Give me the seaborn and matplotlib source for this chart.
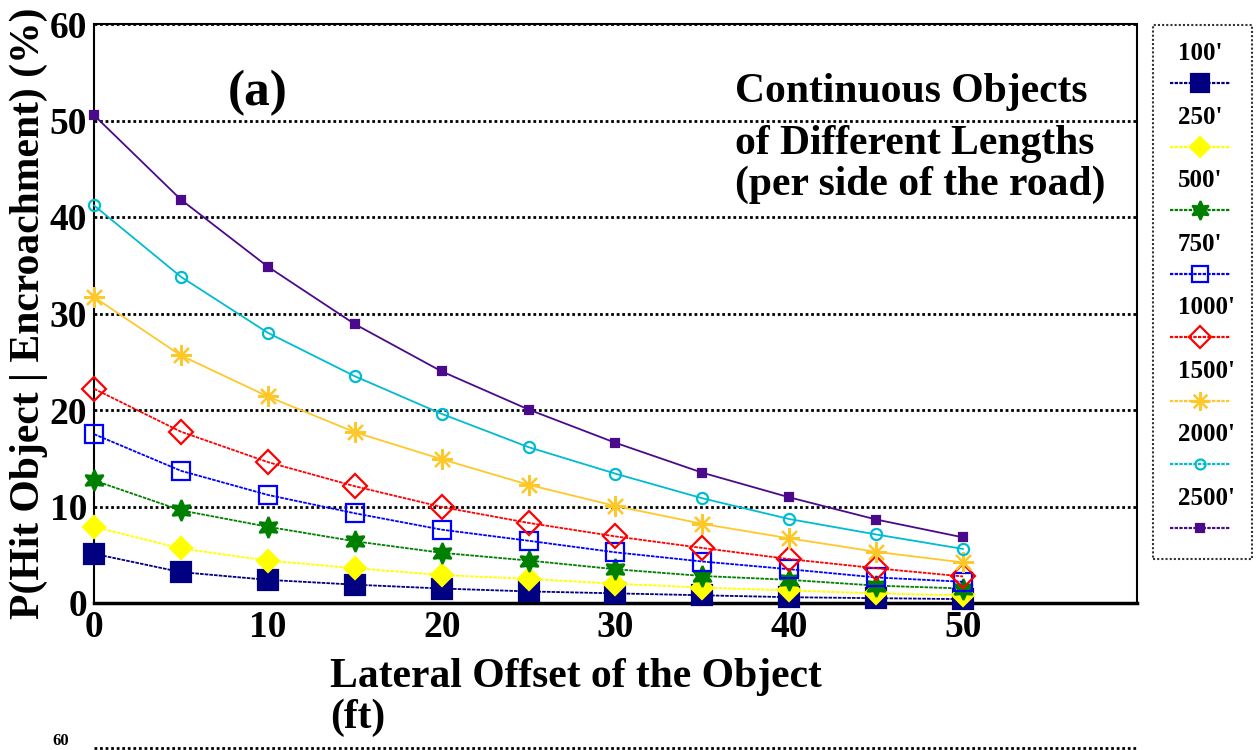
import matplotlib
matplotlib.use("Agg")
import numpy as np
import pandas as pd
import matplotlib.pyplot as plt
import seaborn as sns
from matplotlib.lines import Line2D
from matplotlib.ticker import MultipleLocator

# ---- data ----
offset_ft = [0, 5, 10, 15, 20, 25, 30, 35, 40, 45, 50]
lengths = ["100'", "250'", "500'", "750'", "1000'", "1500'", "2000'", "2500'"]

p_100 = [5.1, 3.2, 2.4, 1.9, 1.5, 1.2, 1.0, 0.8, 0.6, 0.5, 0.4]
p_250 = [7.9, 5.65, 4.4, 3.6, 2.9, 2.5, 2.0, 1.6, 1.3, 1.0, 0.8]
p_500 = [12.7, 9.6, 7.9, 6.4, 5.2, 4.4, 3.5, 2.8, 2.4, 1.8, 1.5]
p_750 = [17.5, 13.7, 11.2, 9.3, 7.6, 6.45, 5.25, 4.3, 3.5, 2.65, 2.2]
p_1000 = [22.2, 17.75, 14.6, 12.1, 9.95, 8.3, 6.9, 5.7, 4.55, 3.6, 2.75]
p_1500 = [31.7, 25.65, 21.4, 17.7, 14.9, 12.25, 10.05, 8.2, 6.7, 5.3, 4.2]
p_2000 = [41.2, 33.8, 28.0, 23.5, 19.6, 16.15, 13.4, 10.85, 8.7, 7.1, 5.6]
p_2500 = [50.55, 41.8, 34.85, 28.9, 24.0, 20.05, 16.6, 13.5, 10.95, 8.65, 6.8]

series = [p_100, p_250, p_500, p_750, p_1000, p_1500, p_2000, p_2500]

df = pd.DataFrame({
    "offset": offset_ft * len(lengths),
    "prob": np.concatenate(series),
    "length": np.repeat(lengths, len(offset_ft)),
})

# ---- styling per series ----
colors = ["#000080", "#FFFF00", "#008000", "#0000FF", "#FF0000", "#FFC82A", "#00BCD0", "#4B0A8C"]
markers = ["s", "D", (6, 1, 0), "s", "D", (8, 2, 0), "o", "s"]
filled = [True, True, True, False, False, True, False, True]
msizes = [14, 11, 15, 13, 12, 15, 8, 6]
dashed = [True, True, True, True, True, False, False, False]

sns.set_style("white")
plt.rcParams["font.family"] = ["Liberation Serif", "DejaVu Serif"]
plt.rcParams["font.weight"] = "bold"
plt.rcParams["text.color"] = "black"
plt.rcParams["axes.labelcolor"] = "black"
plt.rcParams["xtick.color"] = "black"
plt.rcParams["ytick.color"] = "black"

fig = plt.figure(figsize=(12.57, 7.5), dpi=100)
ax = fig.add_axes([0.0748, 0.196, 0.8297, 0.772])

for i, name in enumerate(lengths):
    sub = df[df["length"] == name]
    sns.lineplot(
        data=sub, x="offset", y="prob", ax=ax,
        color=colors[i], marker=markers[i], markersize=msizes[i],
        markerfacecolor=colors[i] if filled[i] else "none",
        markeredgecolor=colors[i], markeredgewidth=1.6,
        linewidth=1.3, linestyle=(0, (2, 0.6)) if dashed[i] else "-",
        label=name, legend=False, clip_on=False, zorder=3,
    )

ax.set_xlim(0, 60)
ax.set_ylim(0, 60)
ax.set_xticks(range(0, 51, 10))
ax.xaxis.set_minor_locator(MultipleLocator(5))
ax.yaxis.set_major_locator(MultipleLocator(10))
ax.yaxis.set_minor_locator(MultipleLocator(5))
ax.tick_params(axis="both", which="major", direction="in", length=9, width=1.5,
               labelsize=27, pad=5)
ax.tick_params(axis="both", which="minor", direction="in", length=6, width=1.5)
for lab in ax.get_xticklabels() + ax.get_yticklabels():
    lab.set_fontweight("bold")

ax.yaxis.grid(True, which="major", color="black", linestyle=(0, (1, 1)), linewidth=2)
ax.xaxis.grid(False)

for side in ["top", "right", "left"]:
    ax.spines[side].set_linestyle((0, (1, 1)))
    ax.spines[side].set_linewidth(1.5)
    ax.spines[side].set_color("black")
ax.spines["bottom"].set_linewidth(2.5)
ax.spines["bottom"].set_color("black")

ax.set_ylabel("P(Hit Object | Encroachment) (%)", fontsize=30, fontweight="bold", va="center")
ax.yaxis.set_label_coords(-0.063, 0.5)
ax.set_xlabel("Lateral Offset of the Object\n(ft)", fontsize=30, fontweight="bold",
              ha="left", va="top", linespacing=1.1)
ax.xaxis.set_label_coords(0.226, -0.095)

ax.text(0.157, 0.881, "(a)", transform=ax.transAxes, fontsize=37, fontweight="bold",
        ha="center", va="center")
# the note sits in three lines, the 50 % grid line runs between the first two
note_lines = ["Continuous Objects", "of Different Lengths", "(per side of the road)"]
note_y = [0.8653, 0.7755, 0.7047]
for txt, yy in zip(note_lines, note_y):
    ax.text(0.6146, yy, txt, transform=ax.transAxes, fontsize=30, fontweight="bold",
            ha="left", va="baseline")

# legend: label above each sample line
handles, labels = ax.get_legend_handles_labels()
blank = Line2D([], [], linestyle="none", marker=None)
leg_h, leg_l = [], []
for h, l in zip(handles, labels):
    h_leg = Line2D([], [], color=h.get_color(), marker=h.get_marker(),
                   markersize=h.get_markersize() * 0.9, markerfacecolor=h.get_markerfacecolor(),
                   markeredgecolor=h.get_markeredgecolor(), markeredgewidth=1.6,
                   linestyle=(0, (1.5, 0.6)), linewidth=1.6)
    leg_h += [blank, h_leg]
    leg_l += [l, ""]
leg = fig.legend(leg_h, leg_l, loc="upper left", bbox_to_anchor=(0.917, 0.967),
                 bbox_transform=fig.transFigure, prop={"size": 18, "weight": "bold"},
                 handlelength=2.4, handletextpad=-2.1, labelspacing=0.35,
                 borderpad=0.7, borderaxespad=0, frameon=True, fancybox=False)
leg.get_frame().set_edgecolor("black")
leg.get_frame().set_linestyle((0, (1, 1)))
leg.get_frame().set_linewidth(1.5)

# top of the next panel, at the bottom edge
fig.text(0.048, 0.001, "60", fontsize=12, fontweight="bold", ha="center", va="bottom")
fig.add_artist(Line2D([0.0748, 0.9045], [0.003, 0.003], transform=fig.transFigure,
                      color="black", linestyle=(0, (1, 1)), linewidth=2))

fig.savefig("out.png", dpi=100)
